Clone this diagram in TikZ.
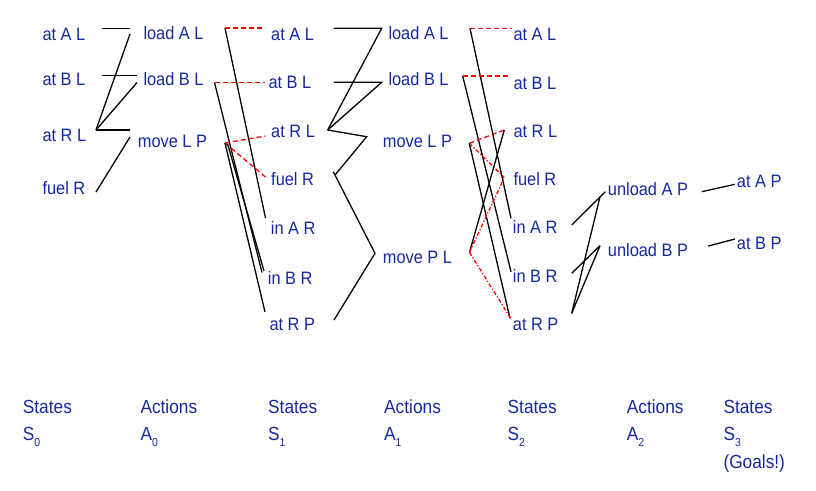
\documentclass[tikz,border=0pt]{standalone}
\usepackage{fontspec}
\setmainfont{Liberation Sans}[FakeStretch=0.91]
\definecolor{txtblue}{RGB}{22,40,160}
\newcommand\lsub[1]{\raisebox{-6.5pt}{\fontsize{11.5}{12}\selectfont #1}}
\begin{document}
\begin{tikzpicture}[x=1pt,y=-1pt,
  lbl/.style={anchor=base west, inner sep=0pt, text=txtblue, font=\fontsize{18}{20}\selectfont},
  blbl/.style={anchor=base west, inner sep=0pt, text=txtblue, font=\fontsize{19}{21}\selectfont},
  ln/.style={black, line width=1.3pt},
  mx/.style={red, line width=1.3pt, dash pattern=on 5pt off 3pt},
  mxd/.style={red, line width=1.3pt, dash pattern=on 4pt off 2pt on 1.2pt off 2pt}]
\useasboundingbox (0,0) rectangle (816,490);

% ---------- text nodes ----------
% S0
\node[lbl] (s0al) at (42.3,40.7) {at A L};
\node[lbl] (s0bl) at (42.3,85) {at B L};
\node[lbl] (s0rl) at (42.3,141.7) {at R L};
\node[lbl] (s0fr) at (42.3,194) {fuel R};
% A0
\node[lbl] (a0al) at (143.3,39.3) {load A L};
\node[lbl] (a0bl) at (143.3,85) {load B L};
\node[lbl] (a0mp) at (137.7,147.7) {move L P};
% S1
\node[lbl] (s1al) at (271,40.7) {at A L};
\node[lbl] (s1bl) at (268.3,88) {at B L};
\node[lbl] (s1rl) at (271,137) {at R L};
\node[lbl] (s1fr) at (271,185) {fuel R};
\node[lbl] (s1ar) at (270.7,234) {in A R};
\node[lbl] (s1br) at (267.7,284) {in B R};
\node[lbl] (s1rp) at (269.3,330) {at R P};
% A1
\node[lbl] (a1al) at (388.3,39) {load A L};
\node[lbl] (a1bl) at (388.3,85.7) {load B L};
\node[lbl] (a1mp) at (382.7,147.7) {move L P};
\node[lbl] (a1pl) at (382.7,263.3) {move P L};
% S2
\node[lbl] (s2al) at (513.3,40.7) {at A L};
\node[lbl] (s2bl) at (513.3,89.3) {at B L};
\node[lbl] (s2rl) at (513.3,137.3) {at R L};
\node[lbl] (s2fr) at (513.3,185) {fuel R};
\node[lbl] (s2ar) at (512.7,233.3) {in A R};
\node[lbl] (s2br) at (512.7,282.7) {in B R};
\node[lbl] (s2rp) at (512.7,330) {at R P};
% A2
\node[lbl] (a2ap) at (607.7,195) {unload A P};
\node[lbl] (a2bp) at (607.7,256) {unload B P};
% S3
\node[lbl] (s3ap) at (736.7,187.7) {at A P};
\node[lbl] (s3bp) at (736.7,249.3) {at B P};

% bottom labels
\node[blbl] (b0a) at (22.7,413.3) {States};
\node[blbl] (b0b) at (22.7,440) {S\lsub{0}};
\node[blbl] (b1a) at (140.3,413.3) {Actions};
\node[blbl] (b1b) at (140.3,440) {A\lsub{0}};
\node[blbl] (b2a) at (268,413.3) {States};
\node[blbl] (b2b) at (268,440) {S\lsub{1}};
\node[blbl] (b3a) at (384,413.3) {Actions};
\node[blbl] (b3b) at (384,440) {A\lsub{1}};
\node[blbl] (b4a) at (507.5,413.3) {States};
\node[blbl] (b4b) at (507.5,440) {S\lsub{2}};
\node[blbl] (b5a) at (626.7,413.3) {Actions};
\node[blbl] (b5b) at (626.7,440) {A\lsub{2}};
\node[blbl] (b6a) at (723.3,413.3) {States};
\node[blbl] (b6b) at (723.3,440) {S\lsub{3}};
\node[blbl] (b6c) at (723.3,468.3) {(Goals!)};

% ---------- connector points ----------
% S0 -> A0
\coordinate (s0ALo) at (102,28.5);
\coordinate (a0ALi) at (130,28.5);
\coordinate (a0ALi2) at (130,34);
\coordinate (s0BLo) at (102,75.5);
\coordinate (a0BLi) at (137,75.5);
\coordinate (a0BLi2) at (137,82.5);
\coordinate (s0RLo) at (96,130);
\coordinate (a0MPi) at (130,130);
\coordinate (a0MPi2) at (130,137);
\coordinate (s0FRo) at (96,192);
% A0 -> S1
\coordinate (a0ALo) at (225,28);
\coordinate (s1ALi) at (265,28);
\coordinate (s1ARi) at (265.5,218);
\coordinate (a0BLo) at (214.5,82.5);
\coordinate (s1BLi) at (265,82.5);
\coordinate (s1BRi) at (262,272.5);
\coordinate (a0MPo) at (225,143);
\coordinate (a0MPo2) at (227.5,143.5);
\coordinate (s1RLi) at (265.5,136);
\coordinate (s1FRi) at (265.5,177);
\coordinate (s1BRi2) at (264,271);
\coordinate (s1RPi) at (265,312);
% S1 -> A1
\coordinate (s1ALo) at (333.5,28.3);
\coordinate (a1ALi) at (381.7,28.3);
\coordinate (s1BLo) at (333.5,82.3);
\coordinate (a1BLi) at (381.7,82.3);
\coordinate (s1RLo) at (327.7,130);
\coordinate (a1MPi) at (366.7,136.7);
\coordinate (s1FRo) at (335,175);
\coordinate (s1FRo2) at (333.3,171.7);
\coordinate (a1PLi) at (375,253.3);
\coordinate (s1RPo) at (334,320);
% A1 -> S2
\coordinate (a1ALo) at (470,28.3);
\coordinate (s2ALi) at (511.7,28.3);
\coordinate (s2ARi) at (511,218.3);
\coordinate (a1BLo) at (462.7,76);
\coordinate (s2BLi) at (508.3,76);
\coordinate (s2BRi) at (511,271.7);
\coordinate (a1MPo) at (469.3,143.3);
\coordinate (s2RLi) at (504.3,130);
\coordinate (s2FRi) at (504.3,177.5);
\coordinate (s2RPi) at (510,318.3);
\coordinate (a1PLo) at (469.5,252.3);
\coordinate (s2RPi2) at (511.7,320);
% S2 -> A2
\coordinate (s2ARo) at (571.7,225);
\coordinate (a2APi) at (605.3,191.7);
\coordinate (a2APi2) at (600,196.7);
\coordinate (s2BRo) at (571.7,273.3);
\coordinate (s2RPo) at (571.7,313.3);
\coordinate (a2BPi) at (600,245.7);
% A2 -> S3
\coordinate (a2APo) at (701.7,191.7);
\coordinate (s3APi) at (735,184.3);
\coordinate (a2BPo) at (708.3,246);
\coordinate (s3BPi) at (735,239);

% ---------- connectors ----------
% S0 -> A0
\draw[ln] (s0ALo) -- (a0ALi);
\draw[ln] (a0ALi2) -- (s0RLo);
\draw[ln] (s0BLo) -- (a0BLi);
\draw[ln] (a0BLi2) -- (s0RLo);
\draw[ln] (s0RLo) -- (a0MPi);
\draw[ln] (a0MPi2) -- (s0FRo);
% A0 -> S1
\draw[ln] (a0ALo) -- (s1ARi);
\draw[mx] (a0ALo) -- (s1ALi);
\draw[ln] (a0BLo) -- (s1BRi);
\draw[mx] (a0BLo) -- (s1BLi);
\draw[mx] (a0MPo) -- (s1RLi);
\draw[mx] (a0MPo) -- (s1FRi);
\draw[ln] (a0MPo2) -- (s1BRi2);
\draw[ln] (a0MPo) -- (s1RPi);
% S1 -> A1
\draw[ln] (s1ALo) -- (a1ALi) -- (s1RLo);
\draw[ln] (s1BLo) -- (a1BLi) -- (s1RLo);
\draw[ln] (s1RLo) -- (a1MPi) -- (s1FRo);
\draw[ln] (s1FRo2) -- (a1PLi) -- (s1RPo);
% A1 -> S2
\draw[ln] (a1ALo) -- (s2ARi);
\draw[mx] (a1ALo) -- (s2ALi);
\draw[ln] (a1BLo) -- (s2BRi);
\draw[mx] (a1BLo) -- (s2BLi);
\draw[mx] (a1MPo) -- (s2RLi);
\draw[mxd] (a1MPo) -- (s2FRi);
\draw[ln] (a1MPo) -- (s2RPi);
\draw[ln] (a1PLo) -- (s2RLi);
\draw[mxd] (a1PLo) -- (s2FRi);
\draw[mxd] (a1PLo) -- (s2RPi2);
% S2 -> A2
\draw[ln] (s2ARo) -- (a2APi);
\draw[ln] (s2RPo) -- (a2APi2);
\draw[ln] (s2BRo) -- (a2BPi);
\draw[ln] (s2RPo) -- (a2BPi);
% A2 -> S3
\draw[ln] (a2APo) -- (s3APi);
\draw[ln] (a2BPo) -- (s3BPi);
\end{tikzpicture}
\end{document}
